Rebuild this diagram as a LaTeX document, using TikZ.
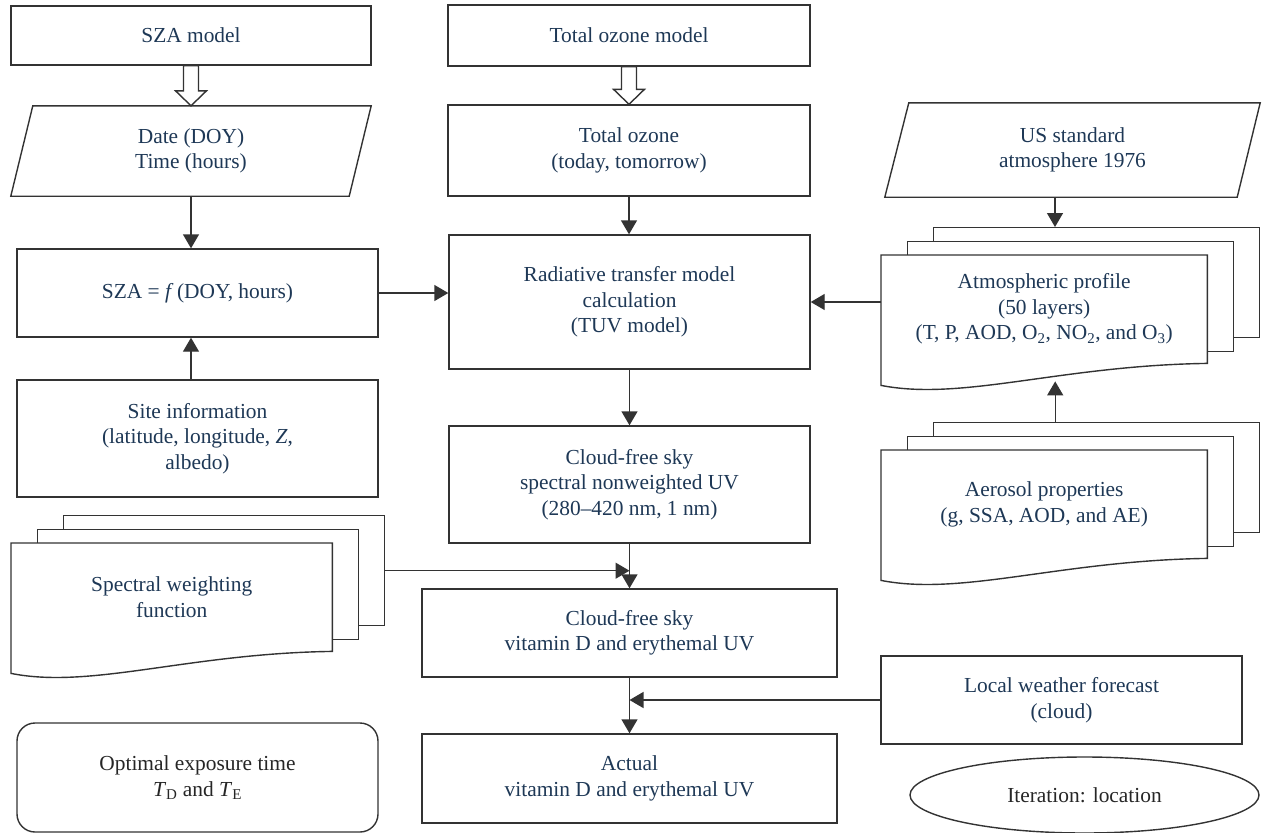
\documentclass[tikz,border=0pt]{standalone}
\usepackage{fontspec}
\setmainfont{Liberation Serif}
\usetikzlibrary{arrows.meta,shapes.geometric,calc}

\definecolor{ink}{HTML}{1E3856}
\definecolor{edge}{HTML}{333333}

\begin{document}
\begin{tikzpicture}[x=1pt, y=-1pt,
        every node/.style={font=\fontsize{21.4}{25.5}\selectfont, text=ink, align=center},
        box/.style={draw=edge, line width=1.4pt, fill=white, inner sep=0pt},
        plain/.style={inner sep=0pt},
        outline/.style={draw=edge, line width=1.4pt},
        layer/.style={draw=edge, line width=1.4pt, fill=white, inner sep=0pt},
        arr/.style={draw=edge, line width=1.4pt, -{Triangle[length=14pt,width=16pt]}},
        hollow/.style={draw=edge, line width=1.4pt, fill=white}]

    \useasboundingbox (0,0) rectangle (1262,833);

    % left column
    \node[box, minimum width=360, minimum height=59] (szam) at (191,35.5) {SZA model};
    \node[plain, minimum width=360, minimum height=90] (date) at (191,151) {Date (DOY)\\Time (hours)};
    \draw[outline] (date.south west) -- ([xshift=22pt]date.north west) -- (date.north east)
        -- ([xshift=-22pt]date.south east) -- cycle;
    \node[box, minimum width=361, minimum height=88] (szaf) at (197.5,293) {SZA = \textit{f}\,(DOY, hours)};
    \node[box, minimum width=361, minimum height=117] (site) at (197.5,438.5)
        {Site information\\(latitude, longitude, \textit{Z},\\albedo)};
    \node[box, rounded corners=18pt, minimum width=361, minimum height=109, text=black!85] (opt)
        at (197.5,777.5) {Optimal exposure time\\\textit{T}\textsubscript{D} and \textit{T}\textsubscript{E}};

    % middle column
    \node[box, minimum width=362, minimum height=61] (ozm) at (629,35.5) {Total ozone model};
    \node[box, minimum width=362, minimum height=91] (oz) at (629,150.5) {Total ozone\\(today, tomorrow)};
    \node[box, minimum width=361, minimum height=134] (rtm) at (629.5,302)
        {Radiative transfer model\\calculation\\(TUV model)};
    \node[box, minimum width=361, minimum height=117] (cfs) at (629.5,484.5)
        {Cloud-free sky\\spectral nonweighted UV\\(280--420 nm, 1 nm)};
    \node[box, minimum width=415, minimum height=88] (cfv) at (629.5,633)
        {Cloud-free sky\\vitamin D and erythemal UV};
    \node[box, minimum width=415, minimum height=89] (act) at (629.5,778.5)
        {Actual\\vitamin D and erythemal UV};

    % right column
    \node[plain, minimum width=375, minimum height=94] (usstd) at (1072.5,150) {US standard\\atmosphere 1976};
    \draw[outline] (usstd.south west) -- ([xshift=24pt]usstd.north west) -- (usstd.north east)
        -- ([xshift=-23pt]usstd.south east) -- cycle;
    \node[box, minimum width=361, minimum height=88] (lwf) at (1061.5,700) {Local weather forecast\\(cloud)};
    \node[outline, ellipse, inner sep=0pt, minimum width=349, minimum height=76, text=black!85] (iter)
        at (1084.5,795) {Iteration: location};

    % stacked documents
    \foreach \nm/\L/\T/\W/\txt in {
            atm/881/255/326/{Atmospheric profile\\(50 layers)\\(T, P, AOD, O\textsubscript{2}, NO\textsubscript{2}, and O\textsubscript{3})},
            aer/881/450/326/{Aerosol properties\\(g, SSA, AOD, and AE)},
            swf/11/543/321/{Spectral weighting\\function}} {
        \node[layer, minimum width=\W, minimum height=110, anchor=north west] (\nm3) at (\L+52,\T-28) {};
        \node[layer, minimum width=\W, minimum height=110, anchor=north west] (\nm2) at (\L+26,\T-14) {};
        \node[plain, fill=white, minimum width=\W, minimum height=108, anchor=north west] (\nm) at (\L,\T) {\txt};
        \draw[outline] (\nm.south west) -- (\nm.north west) -- (\nm.north east) -- (\nm.south east)
            .. controls ($(\nm.south east)+(-0.45*\W,2)$) and ($(\nm.south west)+(0.25*\W,38)$)
            .. ($(\nm.south west)+(0,22)$) -- cycle;
    }

    % hollow arrows
    \draw[hollow] ([xshift=-7.5pt]szam.south) -- ([xshift=-7.5pt,yshift=15pt]date.north)
        -- ([xshift=-15.5pt,yshift=15pt]date.north) -- (date.north)
        -- ([xshift=15.5pt,yshift=15pt]date.north) -- ([xshift=7.5pt,yshift=15pt]date.north)
        -- ([xshift=7.5pt]szam.south) -- cycle;
    \draw[hollow] ([xshift=-7.5pt]ozm.south) -- ([xshift=-7.5pt,yshift=15pt]oz.north)
        -- ([xshift=-15.5pt,yshift=15pt]oz.north) -- (oz.north)
        -- ([xshift=15.5pt,yshift=15pt]oz.north) -- ([xshift=7.5pt,yshift=15pt]oz.north)
        -- ([xshift=7.5pt]ozm.south) -- cycle;

    % connectors
    \draw[arr] (date.south) -- (date.south |- szaf.north);
    \draw[arr] (site.north -| date.south) -- (szaf.south -| date.south);
    \draw[arr] (szaf.east) -- (szaf.east -| rtm.west);
    \draw[arr] (oz.south) -- (oz.south |- rtm.north);
    \draw[arr] ([xshift=-17.5pt]usstd.south) -- ([xshift=-17.5pt]usstd.south |- atm3.north);
    \draw[arr] (atm.west |- rtm.east) -- (rtm.east);
    \draw[arr] ([xshift=11pt]aer.north |- aer3.north) -- ([xshift=11pt,yshift=-18pt]atm.south);
    \draw[arr] (rtm.south) -- (cfs.north);
    \draw[arr] (cfs.south) -- (cfv.north);
    \draw[arr] (swf3.east) -- (swf3.east -| cfs.south);
    \draw[arr] (cfv.south) -- (act.north);
    \draw[arr] (lwf.west) -- (lwf.west -| cfv.south);
\end{tikzpicture}
\end{document}
